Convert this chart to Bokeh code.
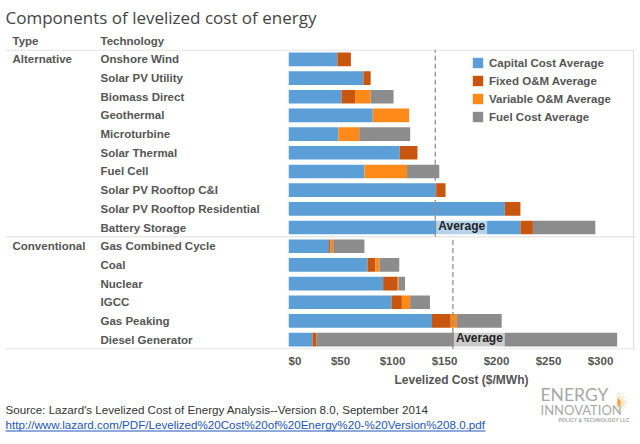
import math
from bokeh.plotting import figure
from bokeh.layouts import column, row
from bokeh.models import (ColumnDataSource, FactorRange, Range1d, Label,
                          FixedTicker, NumeralTickFormatter)
from bokeh.core.properties import value
from bokeh.embed import file_html
from bokeh.resources import INLINE

# ---------------- data ----------------
techs = ["Onshore Wind", "Solar PV Utility", "Biomass Direct", "Geothermal",
         "Microturbine", "Solar Thermal", "Fuel Cell", "Solar PV Rooftop C&I",
         "Solar PV Rooftop Residential", "Battery Storage",
         "Gas Combined Cycle", "Coal", "Nuclear", "IGCC", "Gas Peaking",
         "Diesel Generator"]
type_names = ["Alternative", "Conventional"]
type_counts = [10, 6]
capital = [47, 72, 51, 81, 48, 107, 73, 142, 208, 223, 39, 76, 91, 99, 138, 23]
fixed = [13, 7, 13, 0, 0, 17, 0, 9, 15, 12, 1.5, 7.5, 14, 10, 18, 4]
variable = [0, 0, 15, 35, 20, 0, 41, 0, 0, 0, 2.5, 4, 1, 8, 6, 0]
fuel = [0, 0, 22, 0, 49, 0, 31, 0, 0, 60, 30, 19, 6, 19, 43, 289]
series_keys = ["capital", "fixed", "variable", "fuel"]
series_names = ["Capital Cost Average", "Fixed O&M Average",
                "Variable O&M Average", "Fuel Cost Average"]
x_ticks = [0, 50, 100, 150, 200, 250, 300]

# ---------------- styles / layout ----------------
colors = ["#5B9FD6", "#C8560F", "#FF8A1A", "#8C8C8C"]
TXT = "#555555"
LINE = "#DDDDDD"
FONT = value("Liberation Sans")
URL = "#2255BB"

TW = 636                  # total width
TOP_H = 49                # title strip
LEFT_W = 288              # table column
MAIN_W = TW - LEFT_W
FRAME_H = 300
AX_H = 22
BOT_H = 440 - TOP_H - FRAME_H - AX_H
K = 1.04                  # px per $
N = len(techs)
PAD = 0.03

common = dict(output_backend="svg", toolbar_location=None,
              min_border_left=0, min_border_right=0, min_border_top=0)


def strip(height, y0):
    f = figure(width=TW, height=height, x_range=Range1d(0, TW),
               y_range=Range1d(y0 + height, y0), x_axis_location=None,
               y_axis_location=None, min_border_bottom=0, **common)
    f.outline_line_color = None
    f.xgrid.visible = False
    f.ygrid.visible = False
    return f


y_range = FactorRange(factors=techs[::-1], range_padding=PAD,
                      range_padding_units="absolute")

# ---- top strip: title + headers
top = strip(TOP_H, 0)
top.text(x=[5], y=[17], text=["Components of levelized cost of energy"],
         text_font=value("Open Sans"), text_font_size="17px",
         text_color="#444444", text_baseline="middle", text_align="left")
top.text(x=[12, 100], y=[40, 40], text=["Type", "Technology"], text_font=FONT,
         text_font_style="bold", text_font_size="11.5px", text_color=TXT,
         text_baseline="middle", text_align="left")

# ---- left table
left = figure(width=LEFT_W, height=FRAME_H + AX_H, x_range=Range1d(0, LEFT_W),
              y_range=y_range, x_axis_location=None, y_axis_location=None,
              min_border_bottom=AX_H, **common)
left.outline_line_color = None
left.xgrid.visible = False
left.ygrid.visible = False
left.text(x=100, y=techs, text=techs, text_font=FONT, text_font_style="bold",
          text_font_size="11.5px", text_color=TXT, text_baseline="middle",
          text_align="left")
first_rows = []
idx = 0
for c in type_counts:
    first_rows.append(techs[idx])
    idx += c
left.text(x=12, y=first_rows, text=type_names, text_font=FONT,
          text_font_style="bold", text_font_size="11.5px", text_color=TXT,
          text_baseline="middle", text_align="left")

bounds = [N]
idx = 0
for c in type_counts:
    idx += c
    bounds.append(N - idx)
left.segment(x0=5, x1=LEFT_W, y0=bounds, y1=bounds, line_color=LINE,
             line_width=1)

# ---- main bars
XE = MAIN_W / K
p = figure(width=MAIN_W, height=FRAME_H + AX_H, x_range=Range1d(0, XE),
           y_range=y_range, y_axis_location=None, min_border_bottom=AX_H,
           **common)
p.outline_line_color = None
p.xgrid.visible = False
p.ygrid.visible = False

source = ColumnDataSource(dict(tech=techs, capital=capital, fixed=fixed,
                               variable=variable, fuel=fuel))
p.hbar_stack(series_keys, y="tech", height=0.73, fill_color=colors,
             line_color=None, source=source, legend_label=series_names)

p.segment(x0=0, x1=XE, y0=bounds, y1=bounds, line_color=LINE, line_width=1)
xr = (633 - LEFT_W) / K
p.segment(x0=xr, x1=xr, y0=0, y1=N, line_color=LINE, line_width=1)

totals = [c + f + v + u for c, f, v, u in zip(capital, fixed, variable, fuel)]
idx = 0
for name, c in zip(type_names, type_counts):
    avg = sum(totals[idx:idx + c]) / c
    top_y, bottom_y = N - idx, N - idx - c
    p.segment(x0=avg, x1=avg, y0=bottom_y, y1=top_y, line_color="#8F8F8F",
              line_width=1.3, line_dash="5 3")
    p.add_layout(Label(x=avg, y=bottom_y, x_offset=1, y_offset=2,
                       text="Average", text_font="Liberation Sans",
                       text_font_style="bold", text_font_size="12px",
                       text_color="#222222", text_baseline="bottom",
                       text_align="left", background_fill_color="white",
                       background_fill_alpha=0.55, padding=2))
    idx += c

ax = p.xaxis[0]
ax.ticker = FixedTicker(ticks=x_ticks)
ax.formatter = NumeralTickFormatter(format="$0")
ax.axis_line_color = None
ax.major_tick_line_color = None
ax.minor_tick_line_color = None
ax.major_tick_out = 0
ax.major_tick_in = 0
ax.minor_tick_out = 0
ax.major_label_text_font = "Liberation Sans"
ax.major_label_text_font_style = "bold"
ax.major_label_text_font_size = "11.5px"
ax.major_label_text_color = TXT
ax.major_label_standoff = 5

lg = p.legend[0]
lg.location = (183, 226)
lg.glyph_width = 13
lg.glyph_height = 13
lg.label_height = 13
lg.spacing = 5
lg.padding = 0
lg.margin = 0
lg.label_standoff = 5
lg.border_line_color = None
lg.background_fill_alpha = 0
lg.label_text_font = "Liberation Sans"
lg.label_text_font_style = "bold"
lg.label_text_font_size = "11.5px"
lg.label_text_color = TXT

# ---- bottom strip: axis title, source, logo
y0 = TOP_H + FRAME_H + AX_H
bot = strip(BOT_H, y0)
bot.text(x=[461], y=[379], text=["Levelized Cost ($/MWh)"], text_font=FONT,
         text_font_style="bold", text_font_size="12px", text_color=TXT,
         text_baseline="middle", text_align="center")
bot.text(x=[5], y=[409],
         text=["Source: Lazard's Levelized Cost of Energy Analysis--Version 8.0, September 2014"],
         text_font=FONT, text_font_size="11.6px", text_color="#333333",
         text_baseline="middle", text_align="left")
bot.text(x=[5], y=[424],
         text=["http://www.lazard.com/PDF/Levelized%20Cost%20of%20Energy%20-%20Version%208.0.pdf"],
         text_font=FONT, text_font_size="11.6px", text_color=URL,
         text_baseline="middle", text_align="left")
bot.segment(x0=[5], x1=[485], y0=[430.5], y1=[430.5], line_color=URL,
            line_width=1)

bot.text(x=[540], y=[394], text=["ENERGY"], text_font=value("Lato"),
         text_font_size="17.5px", text_color="#A8A8A8", text_baseline="middle",
         text_align="left")
bot.text(x=[540], y=[409], text=["INNOVATION"], text_font=value("Lato"),
         text_font_size="13px", text_color="#A8A8A8", text_baseline="middle",
         text_align="left")
bot.text(x=[558], y=[419], text=["POLICY & TECHNOLOGY LLC"], text_font=FONT,
         text_font_style="bold", text_font_size="5px", text_color="#A8A8A8",
         text_baseline="middle", text_align="left")
cx, cy = 616, 402
ray_x, ray_y = [], []
for i in range(11):
    a = -75 + 15 * i
    for da, r in [(-3, 4), (0, 13), (3, 4)]:
        t = math.radians(a + da)
        ray_x.append(cx + r * math.cos(t))
        ray_y.append(cy - r * math.sin(t))
bot.patch(ray_x, ray_y, fill_color="#F2A23A", line_color=None)

layout = column(top, row(left, p), bot)
open("out.html", "w").write(file_html(layout, INLINE))
